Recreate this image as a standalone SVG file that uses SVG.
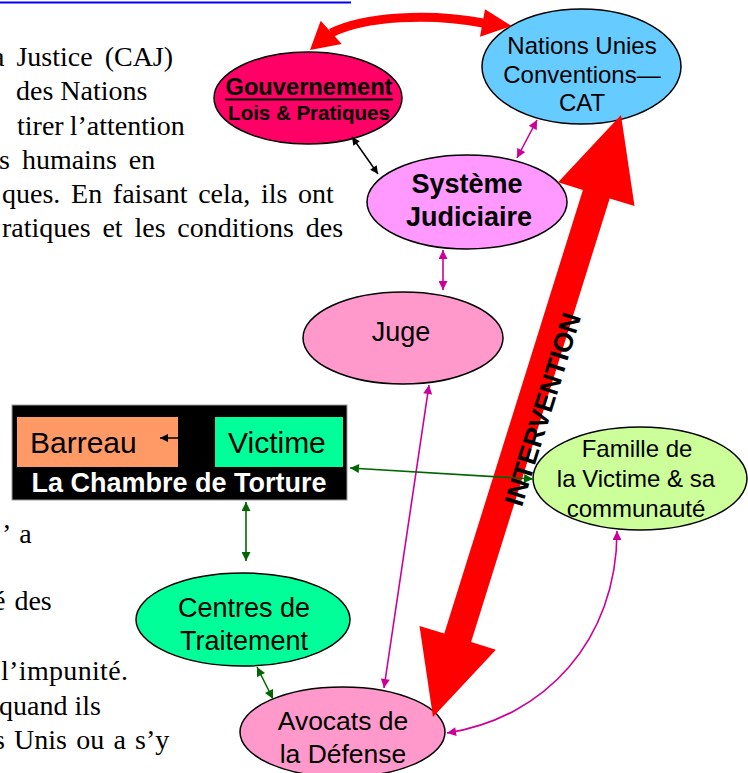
<svg xmlns="http://www.w3.org/2000/svg" width="748" height="773" viewBox="0 0 748 773">
<style>
.body{font-family:"Liberation Serif","Times New Roman",serif;font-size:28px;fill:#000}
.nt{font-family:"Liberation Sans",Arial,sans-serif;fill:#000;text-anchor:middle}
.b{font-weight:bold}
.node{stroke:#000;stroke-width:1.5}
.mag{stroke:#CC0099;stroke-width:1.6;fill:none;marker-start:url(#mM);marker-end:url(#mM)}
.grn{stroke:#006600;stroke-width:1.6;fill:none;marker-start:url(#mG);marker-end:url(#mG)}
.blk{stroke:#000;stroke-width:1.5;fill:none}
</style>
<defs>
<marker id="mM" viewBox="0 0 10 10" refX="10" refY="5" markerWidth="10" markerHeight="9" markerUnits="userSpaceOnUse" orient="auto-start-reverse"><path d="M0,0 L10,5 L0,10 z" fill="#CC0099"/></marker>
<marker id="mG" viewBox="0 0 10 10" refX="10" refY="5" markerWidth="10" markerHeight="9" markerUnits="userSpaceOnUse" orient="auto-start-reverse"><path d="M0,0 L10,5 L0,10 z" fill="#006600"/></marker>
<marker id="mK" viewBox="0 0 10 10" refX="10" refY="5" markerWidth="10" markerHeight="8" markerUnits="userSpaceOnUse" orient="auto-start-reverse"><path d="M0,0 L10,5 L0,10 z" fill="#000"/></marker>
</defs>
<rect width="748" height="773" fill="#fff"/>

<g id="page-text">
<line x1="0" y1="2.5" x2="351" y2="2.5" stroke="#0000FF" stroke-width="2"/>
<text class="body" x="-8" y="66" word-spacing="5">a Justice (CAJ)</text>
<text class="body" x="16" y="100">des Nations</text>
<text class="body" x="17" y="135" word-spacing="-1">tirer l’attention</text>
<text class="body" x="-1" y="169" word-spacing="5">s humains en</text>
<text class="body" x="2" y="203" word-spacing="3.7">ques. En faisant cela, ils ont</text>
<text class="body" x="2" y="237" word-spacing="4.8">ratiques et les conditions des</text>
<text class="body" x="2" y="543" word-spacing="3">’ a</text>
<text class="body" x="-7" y="610" word-spacing="2">é des</text>
<text class="body" x="1" y="680" textLength="127" lengthAdjust="spacing">l’impunité.</text>
<text class="body" x="-1" y="715">quand ils</text>
<text class="body" x="-6" y="749" word-spacing="2.2">s Unis ou a s’y</text>
</g>

<g id="node-gouvernement">
<ellipse class="node" cx="308" cy="98" rx="94" ry="46" fill="#FF0066"/>
<text class="nt b" x="309" y="95" font-size="23" textLength="167" lengthAdjust="spacingAndGlyphs">Gouvernement</text>
<line x1="225" y1="99.5" x2="393" y2="99.5" stroke="#000" stroke-width="2"/>
<text class="nt b" x="309" y="120" font-size="20.5">Lois &amp; Pratiques</text>
</g>

<g id="node-nations-unies">
<ellipse class="node" cx="581.5" cy="66.5" rx="99.5" ry="57.5" fill="#66CCFF"/>
<text class="nt" x="582" y="54" font-size="24">Nations Unies</text>
<text class="nt" x="582" y="83" font-size="24">Conventions—</text>
<text class="nt" x="582" y="111" font-size="24">CAT</text>
</g>

<g id="node-systeme-judiciaire">
<ellipse class="node" cx="467" cy="202" rx="100" ry="47" fill="#FF99FF"/>
<text class="nt b" x="467" y="193" font-size="27">Système</text>
<text class="nt b" x="469" y="226" font-size="27">Judiciaire</text>
</g>

<g id="node-juge">
<ellipse class="node" cx="403" cy="338" rx="100" ry="46" fill="#FF99CC"/>
<text class="nt" x="401" y="341" font-size="27">Juge</text>
</g>

<g id="node-famille">
<ellipse class="node" cx="640" cy="478.5" rx="107" ry="51.5" fill="#CCFF99"/>
<text class="nt" x="637" y="457" font-size="24">Famille de</text>
<text class="nt" x="636" y="487" font-size="24">la Victime &amp; sa</text>
<text class="nt" x="636" y="517" font-size="24">communauté</text>
</g>

<g id="node-chambre-torture">
<rect x="12" y="405" width="335" height="95" fill="#000" stroke="#999" stroke-width="1"/>
<rect x="17" y="417" width="161" height="50" fill="#FF9966"/>
<rect x="215" y="417" width="128" height="50" fill="#00FF99"/>
<text x="30" y="453" font-family="Liberation Sans, Arial, sans-serif" font-size="30" fill="#000">Barreau</text>
<text x="228" y="453" font-family="Liberation Sans, Arial, sans-serif" font-size="30" fill="#000">Victime</text>
<line x1="178" y1="438" x2="160" y2="438" stroke="#000" stroke-width="1.5" marker-end="url(#mK)"/>
<text x="179" y="492" font-family="Liberation Sans, Arial, sans-serif" font-size="27" font-weight="bold" fill="#fff" text-anchor="middle">La Chambre de Torture</text>
</g>

<g id="node-centres">
<ellipse class="node" cx="243" cy="619.5" rx="107" ry="46.5" fill="#00FF99"/>
<text class="nt" x="244" y="617" font-size="27">Centres de</text>
<text class="nt" x="244" y="650" font-size="27">Traitement</text>
</g>

<g id="node-avocats">
<ellipse class="node" cx="342.5" cy="732" rx="102.5" ry="45" fill="#FF99CC"/>
<text class="nt" x="343" y="730" font-size="26.5">Avocats de</text>
<text class="nt" x="343" y="763" font-size="26.5">la Défense</text>
</g>

<g id="connectors">
<path d="M331,33 C365,16 430,13 483,23" fill="none" stroke="#FF0000" stroke-width="9"/>
<polygon points="310,50 320.7,20.7 341.7,44" fill="#FF0000"/>
<polygon points="511.7,26 485,9.3 480,36.7" fill="#FF0000"/>
<polygon points="621,115 634.5,206.1 609.7,198.4 471.1,642 495.9,649.7 433,717 419.5,625.9 444.3,633.6 582.9,190 558.1,182.3" fill="#FF0000"/>
<line class="blk" x1="352" y1="137" x2="378" y2="174" marker-start="url(#mK)" marker-end="url(#mK)"/>
<line class="mag" x1="537" y1="120" x2="517" y2="158"/>
<line class="mag" x1="443" y1="250" x2="443" y2="290"/>
<line class="mag" x1="429" y1="385" x2="384" y2="688"/>
<path class="mag" d="M617,531 C617,640 545,718 447,733"/>
<line class="grn" x1="350" y1="468" x2="533" y2="479"/>
<line class="grn" x1="246" y1="502" x2="246" y2="561"/>
<line class="grn" x1="257" y1="667" x2="273" y2="699"/>
<text transform="translate(542,409) rotate(-72.66)" x="0" y="10" font-family="Liberation Sans, Arial, sans-serif" font-size="27" font-weight="bold" fill="#000" text-anchor="middle">INTERVENTION</text>
</g>
</svg>
